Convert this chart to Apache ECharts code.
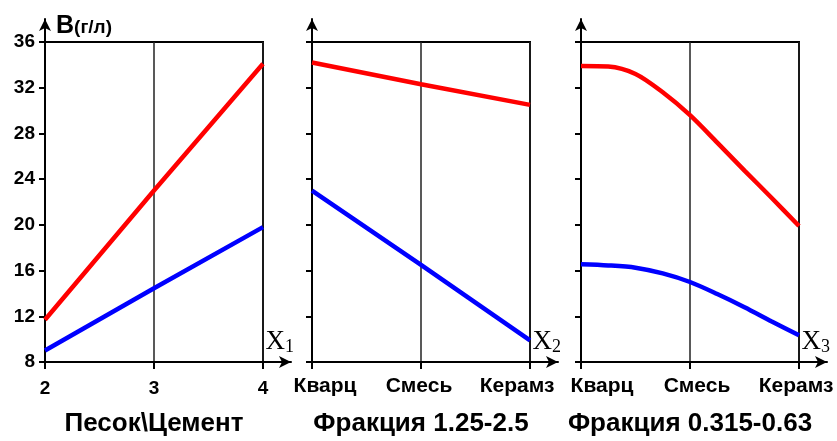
<!DOCTYPE html>
<html>
<head>
<meta charset="utf-8">
<script src="https://cdn.jsdelivr.net/npm/echarts@6/dist/echarts.min.js"></script>
<style>
html, body { margin: 0; padding: 0; background: #fff; }
#chart { width: 837px; height: 441px; }
</style>
</head>
<body>
<div id="chart"></div>
<script>
// панель 1: Песок\Цемент
const ratioTicks = [2, 3, 4]
const redRatio = [11.7, 23.0, 34.1]
const blueRatio = [9.0, 14.45, 19.8]
// панель 2: Фракция 1.25-2.5
const fillers = ['Кварц', 'Смесь', 'Керамз']
const redCoarse = [34.2, 32.3, 30.5]
const blueCoarse = [23.0, 16.5, 9.9]
// панель 3: Фракция 0.315-0.63, кривые сняты по шкале 0..2
const fineSteps = [0, 0.25, 0.5, 0.75, 1, 1.25, 1.5, 1.75, 2]
const redFine = [33.9, 33.85, 33.2, 31.6, 29.6, 27.2, 24.75, 22.35, 19.9]
const blueFine = [16.55, 16.45, 16.25, 15.75, 15.0, 13.95, 12.8, 11.55, 10.35]
// ось B
const yTicks = [8, 12, 16, 20, 24, 28, 32, 36]
const titles = ['Песок\\Цемент', 'Фракция 1.25-2.5', 'Фракция 0.315-0.63']
const xNames = ['1', '2', '3']

const chart = echarts.init(document.getElementById('chart'))
const RED = '#ff0000', BLUE = '#0000ff'
const FONT = 'Liberation Sans'
const lefts = [45, 312, 581]

const blackLine = { color: '#000', width: 2 }
const lblStyle = { fontFamily: FONT, fontWeight: 'bold', fontSize: 19, color: '#000' }
const catStyle = Object.assign({}, lblStyle, { fontSize: 21 })

const grids = [], xAxes = [], yAxes = []
lefts.forEach(l => grids.push({
  left: l, top: 42, width: 218, height: 320,
  show: true, borderColor: '#000', borderWidth: 2, backgroundColor: 'transparent'
}))
// стрелки осей
lefts.forEach(l => grids.push({ left: l, top: 19, width: 246, height: 343 }))

const catRich = (pads) => ({
  a: Object.assign({ padding: pads[0] }, catStyle),
  b: Object.assign({ padding: pads[1] }, catStyle),
  c: Object.assign({ padding: pads[2] }, catStyle)
})
const catFmt = (name, i) => '{' + 'abc'[i] + '|' + name + '}'

const xBase = (i) => ({
  gridIndex: i,
  axisLine: { show: true, onZero: false, lineStyle: blackLine },
  axisTick: { show: true, length: 7, lineStyle: blackLine },
  splitLine: { show: true, lineStyle: { color: '#222', width: 1.5 } }
})

xAxes.push(Object.assign(xBase(0), {
  type: 'value', min: ratioTicks[0], max: ratioTicks[ratioTicks.length - 1], interval: 1,
  axisLabel: Object.assign({ margin: 17 }, lblStyle)
}))
xAxes.push(Object.assign(xBase(1), {
  type: 'category', data: fillers, boundaryGap: false,
  axisTick: { show: true, length: 7, lineStyle: blackLine, interval: 0 },
  splitLine: { show: true, interval: 0, lineStyle: { color: '#222', width: 1.5 } },
  axisLabel: Object.assign({ margin: 14, interval: 0, formatter: catFmt,
    rich: catRich([[0, 0, 0, 26], [0, 4, 0, 0], [0, 26, 0, 0]]) }, catStyle)
}))
xAxes.push(Object.assign(xBase(2), {
  type: 'value', min: 0, max: 2, interval: 1,
  axisLabel: Object.assign({ margin: 14,
    formatter: v => '{' + 'abc'[v] + '|' + fillers[v] + '}',
    rich: catRich([[0, 0, 0, 42], [0, 0, 0, 14], [0, 6, 0, 0]]) }, catStyle)
}))

for (let i = 0; i < 3; i++) {
  yAxes.push({
    gridIndex: i, type: 'value', min: yTicks[0], max: yTicks[yTicks.length - 1], interval: 4,
    axisLine: { show: true, onZero: false, lineStyle: blackLine },
    axisTick: { show: true, length: 6, lineStyle: blackLine },
    axisLabel: Object.assign({ show: i === 0, margin: 10 }, lblStyle),
    splitLine: { show: false },
    name: i === 0 ? '{b|B}{u|(г/л)}' : '',
    nameLocation: 'end', nameGap: 16,
    nameTextStyle: {
      align: 'left', verticalAlign: 'middle', padding: [0, 0, 0, 11],
      rich: {
        b: { fontFamily: FONT, fontWeight: 'bold', fontSize: 25, color: '#000' },
        u: { fontFamily: FONT, fontWeight: 'bold', fontSize: 19, color: '#000', padding: [4, 0, 0, 0] }
      }
    }
  })
}
for (let i = 0; i < 3; i++) {
  xAxes.push({
    gridIndex: 3 + i, type: 'value', min: 0, max: 1,
    axisLine: { show: true, onZero: false, symbol: ['none', 'arrow'], symbolSize: [9, 12], lineStyle: blackLine },
    axisTick: { show: false }, axisLabel: { show: false }, splitLine: { show: false },
    name: '{x|X}{s|' + xNames[i] + '}', nameLocation: 'end', nameGap: 3,
    nameTextStyle: {
      align: 'right', verticalAlign: 'bottom', padding: [0, 0, 6, 0],
      rich: {
        x: { fontFamily: 'Liberation Serif', fontSize: 27, color: '#000' },
        s: { fontFamily: 'Liberation Serif', fontSize: 18, color: '#000', padding: [10, 0, 0, 0] }
      }
    }
  })
  yAxes.push({
    gridIndex: 3 + i, type: 'value', min: 0, max: 1,
    axisLine: { show: true, onZero: false, symbol: ['none', 'arrow'], symbolSize: [9, 12], lineStyle: blackLine },
    axisTick: { show: false }, axisLabel: { show: false }, splitLine: { show: false }
  })
}

const line = (xi, color, data, smooth) => ({
  type: 'line', xAxisIndex: xi, yAxisIndex: xi, data: data,
  smooth: smooth || false, symbol: 'none', silent: true,
  lineStyle: { color: color, width: 4.5 }, z: 3
})

const option = {
  animation: false,
  backgroundColor: '#fff',
  title: titles.map((t, i) => ({
    text: t, left: lefts[i] + 109, top: 411, textAlign: 'center', padding: 0,
    textStyle: { fontFamily: FONT, fontWeight: 'bold', fontSize: 26, color: '#000' }
  })),
  grid: grids,
  xAxis: xAxes,
  yAxis: yAxes,
  series: [
    line(0, RED, ratioTicks.map((x, i) => [x, redRatio[i]])),
    line(0, BLUE, ratioTicks.map((x, i) => [x, blueRatio[i]])),
    line(1, RED, redCoarse),
    line(1, BLUE, blueCoarse),
    line(2, RED, fineSteps.map((x, i) => [x, redFine[i]]), 0.3),
    line(2, BLUE, fineSteps.map((x, i) => [x, blueFine[i]]), 0.3)
  ]
}
chart.setOption(option)
</script>
</body>
</html>
